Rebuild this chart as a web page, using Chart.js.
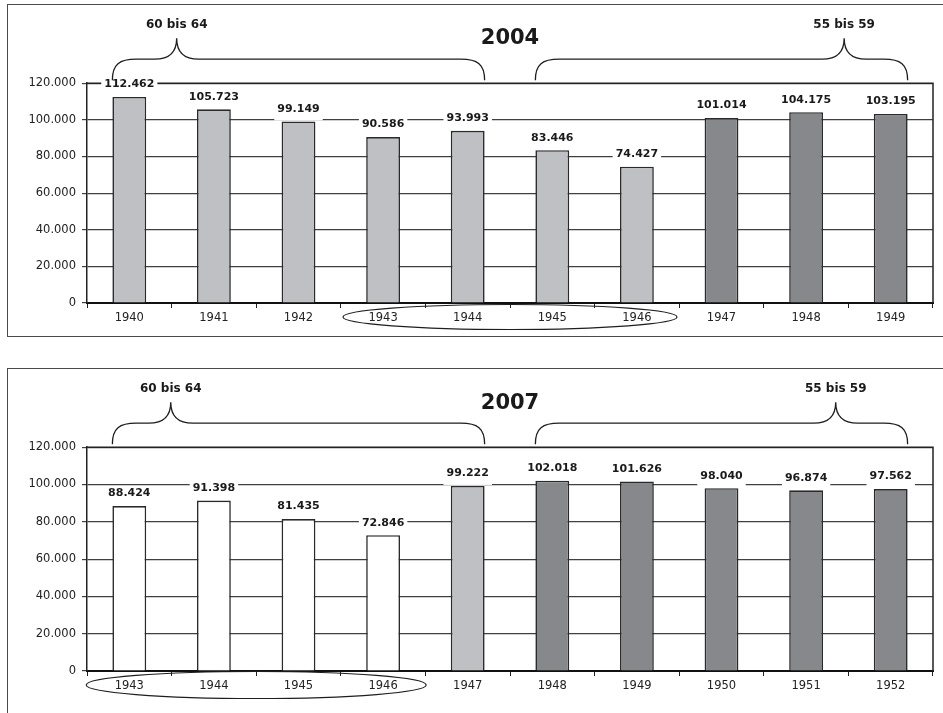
<!DOCTYPE html>
<html lang="de">
<head>
<meta charset="utf-8">
<title>Jahrgänge 2004 und 2007</title>
<script src="https://cdn.jsdelivr.net/npm/chart.js@4.4.1/dist/chart.umd.min.js"></script>
<style>
  body { margin: 0; background: #fff; width: 943px; height: 713px; overflow: hidden; position: relative; }
  .rahmen { position: absolute; left: 7px; width: 980px; border: 1.5px solid #4a4a4a; border-right: none; }
  #rahmen1 { top: 4px; height: 331px; }
  #rahmen2 { top: 368px; height: 400px; border-bottom: none; }
  canvas { position: absolute; left: 0; }
  #chart2004 { top: 0; }
  #chart2007 { top: 365px; }
</style>
</head>
<body>
<div class="rahmen" id="rahmen1"></div>
<div class="rahmen" id="rahmen2"></div>
<canvas id="chart2004" width="943" height="340"></canvas>
<canvas id="chart2007" width="943" height="348"></canvas>
<script>
// Daten 2004
const jahre2004 = ['1940', '1941', '1942', '1943', '1944', '1945', '1946', '1947', '1948', '1949'];
const werte2004 = [112462, 105723, 99149, 90586, 93993, 83446, 74427, 101014, 104175, 103195];
const gruppen2004 = ['hell', 'hell', 'hell', 'hell', 'hell', 'hell', 'hell', 'dunkel', 'dunkel', 'dunkel'];

// Daten 2007
const jahre2007 = ['1943', '1944', '1945', '1946', '1947', '1948', '1949', '1950', '1951', '1952'];
const werte2007 = [88424, 91398, 81435, 72846, 99222, 102018, 101626, 98040, 96874, 97562];
const gruppen2007 = ['weiss', 'weiss', 'weiss', 'weiss', 'hell', 'dunkel', 'dunkel', 'dunkel', 'dunkel', 'dunkel'];

// Achse und Beschriftungen
const yTicks = [0, 20000, 40000, 60000, 80000, 100000, 120000];
const altersgruppen = ['60 bis 64', '55 bis 59'];

const farben = { weiss: '#ffffff', hell: '#bfc0c3', dunkel: '#87888b' };
const schrift = '"DejaVu Sans", sans-serif';

// 120000 -> "120.000"
const formatDE = v => String(v).replace(/\B(?=(\d{3})+(?!\d))/g, '.');

// geschweifte Klammer über mehreren Balken
function klammer(ctx, xL, xR, xT, yEnd, yMid, yTip) {
    const r = 24, s = 22;
    ctx.beginPath();
    ctx.moveTo(xL, yEnd);
    ctx.bezierCurveTo(xL, yMid + 5, xL + 7, yMid, xL + r, yMid);
    ctx.lineTo(xT - s, yMid);
    ctx.bezierCurveTo(xT - 8, yMid, xT, yMid - 7, xT, yTip);
    ctx.bezierCurveTo(xT, yMid - 7, xT + 8, yMid, xT + s, yMid);
    ctx.lineTo(xR - r, yMid);
    ctx.bezierCurveTo(xR - 7, yMid, xR, yMid + 5, xR, yEnd);
    ctx.stroke();
}

const extras = {
    id: 'extras',
    beforeDatasetsDraw(chart) {
        //Rahmen oben und rechts
        const { ctx, chartArea: a } = chart;
        ctx.save();
        ctx.strokeStyle = '#222';
        ctx.lineWidth = 1.5;
        ctx.beginPath();
        ctx.moveTo(a.left, a.top);
        ctx.lineTo(a.right, a.top);
        ctx.lineTo(a.right, a.bottom);
        ctx.stroke();
        ctx.restore();
    },
    afterDatasetsDraw(chart) {
        //Werte über den Balken, weiss hinterlegt
        const ctx = chart.ctx;
        const meta = chart.getDatasetMeta(0);
        const data = chart.data.datasets[0].data;
        ctx.save();
        ctx.font = 'bold 11px ' + schrift;
        ctx.textAlign = 'center';
        ctx.textBaseline = 'middle';
        meta.data.forEach((bar, i) => {
            const txt = formatDE(data[i]);
            const w = ctx.measureText(txt).width;
            const y = bar.y - 13;
            ctx.fillStyle = '#fff';
            ctx.fillRect(bar.x - w / 2 - 3, y - 7, w + 6, 19);
            ctx.fillStyle = '#1a1a1a';
            ctx.fillText(txt, bar.x, y + 0.5);
        });
        ctx.restore();
    },
    afterDraw(chart, args, opts) {
        const { ctx, chartArea: a } = chart;
        const meta = chart.getDatasetMeta(0);
        const xs = chart.scales.x;
        const step = xs.getPixelForValue(1) - xs.getPixelForValue(0);
        ctx.save();
        ctx.strokeStyle = '#1e1e1e';
        ctx.lineWidth = 1.3;
        ctx.fillStyle = '#1a1a1a';
        ctx.font = 'bold 12px ' + schrift;
        ctx.textAlign = 'center';
        ctx.textBaseline = 'middle';
        opts.klammern.forEach(k => {
            const b0 = meta.data[k.von], b1 = meta.data[k.bis];
            const xL = b0.x - b0.width / 2;
            const xR = b1.x + b1.width / 2;
            const xT = xs.getPixelForValue(0) + k.spitze * step;
            klammer(ctx, xL, xR, xT, a.top - 3, a.top - 24, a.top - 45);
            ctx.fillText(k.text, xT, a.top - 58);
        });
        //Ellipse um die Jahrgänge
        const e = opts.ellipse;
        ctx.lineWidth = 1.2;
        ctx.beginPath();
        ctx.ellipse(xs.getPixelForValue(e.mitte), a.bottom + 14, e.rx, e.ry, 0, 0, Math.PI * 2);
        ctx.stroke();
        ctx.restore();
    }
};

function diagramm(id, titel, jahre, werte, gruppen, achsenHoehe, extra) {
    return new Chart(document.getElementById(id), {
        type: 'bar',
        data: {
            labels: jahre,
            datasets: [{
                data: werte,
                backgroundColor: gruppen.map(g => farben[g]),
                borderColor: '#2a2a2a',
                borderWidth: 1.6,
                barPercentage: 0.4,
                categoryPercentage: 1
            }]
        },
        options: {
            responsive: false,
            animation: false,
            layout: { padding: { left: 0, right: 10, top: 0, bottom: 0 } },
            plugins: {
                legend: { display: false },
                tooltip: { enabled: false },
                title: {
                    display: true,
                    text: titel,
                    fullSize: false,
                    color: '#1a1a1a',
                    font: { family: schrift, size: 21, weight: 'bold' },
                    padding: { top: 26, bottom: extra.titelAbstand }
                },
                extras: extra
            },
            scales: {
                x: {
                    grid: { drawOnChartArea: false, drawTicks: true, tickLength: 5, color: '#222' },
                    border: { display: true, color: '#111', width: 2 },
                    ticks: { color: '#222', padding: 3, font: { family: schrift, size: 11.5 } },
                    afterFit: s => { s.height = achsenHoehe; }
                },
                y: {
                    min: 0,
                    max: 120000,
                    afterBuildTicks: s => { s.ticks = yTicks.map(v => ({ value: v })); },
                    grid: { color: '#404040', lineWidth: 1.2, tickLength: 5 },
                    border: { display: true, color: '#222', width: 1.5 },
                    ticks: { color: '#222', padding: 6, font: { family: schrift, size: 11.5 }, callback: v => formatDE(v) },
                    afterFit: s => { s.width = 87; }
                }
            }
        },
        plugins: [extras]
    });
}

diagramm('chart2004', '2004', jahre2004, werte2004, gruppen2004, 37, {
    titelAbstand: 32,
    klammern: [
        { von: 0, bis: 4, spitze: 0.56, text: altersgruppen[0] },
        { von: 5, bis: 9, spitze: 8.45, text: altersgruppen[1] }
    ],
    ellipse: { mitte: 4.5, rx: 167, ry: 12.5 }
});

diagramm('chart2007', '2007', jahre2007, werte2007, gruppen2007, 42, {
    titelAbstand: 31,
    klammern: [
        { von: 0, bis: 4, spitze: 0.49, text: altersgruppen[0] },
        { von: 5, bis: 9, spitze: 8.35, text: altersgruppen[1] }
    ],
    ellipse: { mitte: 1.5, rx: 170, ry: 13.5 }
});
</script>
</body>
</html>
